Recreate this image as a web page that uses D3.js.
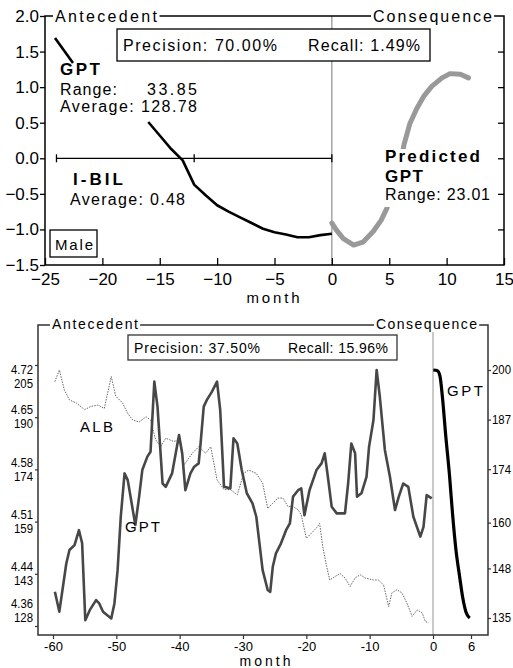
<!DOCTYPE html>
<html>
<head>
<meta charset="utf-8">
<script src="https://cdn.jsdelivr.net/npm/d3@7"></script>
<style>
  body { margin: 0; background: #fff; }
  svg { display: block; font-family: "Liberation Sans", Arial, sans-serif; }
</style>
</head>
<body>
<div id="chart"></div>
<script>
// ---- top panel: normalised GPT / I-BIL rule
const topTicksX = [-25, -20, -15, -10, -5, 0, 5, 10, 15];
const topTicksY = [-1.5, -1.0, -0.5, 0.0, 0.5, 1.0, 1.5, 2.0];
const gptAnteMonths = [-16, -15, -14, -13, -12, -11, -10, -9, -8, -7, -6, -5, -4, -3, -2, -1, 0];
const gptAnteValues = [0.51, 0.32, 0.13, -0.03, -0.37, -0.52, -0.66, -0.75, -0.83, -0.91, -0.99, -1.04, -1.07, -1.11, -1.11, -1.08, -1.06];
const gptPredMonths = [0, 0.4, 1.0, 1.9, 2.7, 3.6, 4.3, 4.8, 5.5, 6.0, 6.3, 6.8, 7.4, 8.0, 8.7, 9.6, 10.3, 11.2, 11.9];
const gptPredValues = [-0.91, -1.01, -1.13, -1.22, -1.18, -1.03, -0.87, -0.70, -0.35, -0.05, 0.20, 0.49, 0.70, 0.87, 1.01, 1.13, 1.19, 1.18, 1.13];
const ibilMonths = [-24, -12, 0];
const ibilLevel = 0;

// ---- bottom panel: GPT / ALB rule
const bottomTicksX = [-60, -50, -40, -30, -20, -10, 0, 6];
const leftAlbLabels = ["4.72", "4.65", "4.58", "4.51", "4.44", "4.36"];
const leftGptLabels = ["205", "190", "174", "159", "143", "128"];
const rightGptTicks = [200, 187, 174, 160, 148, 135];
const gptMonths = [-59.7, -59.0, -57.9, -57.4, -56.6, -55.9, -55.4, -54.9, -54.2, -53.2, -52.7, -52.1, -50.8, -50.3, -49.8, -49.3, -48.7, -48.2, -47.4, -47.0, -46.4, -45.9, -45.1, -44.6, -44.0, -43.5, -42.7, -42.2, -41.2, -40.1, -39.6, -39.1, -38.3, -37.7, -37.0, -36.7, -36.2, -35.7, -34.9, -34.1, -33.6, -33.0, -32.0, -31.5, -30.9, -30.2, -29.4, -28.5, -27.9, -27.4, -26.9, -26.1, -25.7, -25.3, -24.8, -24.0, -23.2, -22.6, -22.1, -21.3, -20.8, -20.3, -19.5, -18.4, -17.6, -17.1, -16.6, -16.0, -15.2, -13.9, -13.4, -12.9, -12.3, -12.0, -11.3, -10.5, -10.1, -9.4, -8.9, -8.4, -7.6, -6.8, -6.0, -5.4, -4.7, -3.9, -3.1, -2.0, -1.5, -1.0, -0.2];
const gptValues = [136.9, 130.4, 146.2, 150.6, 152.2, 157.1, 152.8, 127.6, 130.9, 134.2, 133.1, 130.4, 128.2, 133.1, 144.0, 161.5, 175.7, 173.5, 163.7, 158.8, 168.1, 176.8, 181.2, 182.8, 205.8, 197.6, 172.4, 171.3, 175.7, 188.3, 182.3, 170.2, 175.7, 177.9, 179.0, 185.5, 197.6, 199.8, 202.5, 205.8, 196.5, 171.3, 170.8, 187.2, 185.5, 176.8, 169.2, 165.9, 161.5, 152.8, 144.0, 137.5, 136.9, 145.1, 149.5, 152.8, 157.1, 159.3, 168.1, 170.2, 170.8, 162.0, 170.2, 176.8, 179.0, 182.3, 174.6, 164.8, 162.6, 162.6, 172.4, 185.5, 182.3, 168.1, 169.2, 174.6, 184.4, 193.2, 209.6, 200.9, 183.4, 174.6, 163.7, 168.1, 172.4, 171.3, 161.5, 155.0, 158.2, 168.6, 167.5];
const albMonths = [-59.7, -59.0, -58.2, -57.4, -56.3, -55.0, -54.0, -52.9, -51.9, -50.8, -50.1, -49.0, -48.2, -47.4, -46.4, -45.3, -44.6, -43.8, -43.0, -42.2, -40.9, -40.1, -39.3, -38.0, -37.0, -35.9, -35.1, -34.1, -33.0, -32.0, -30.9, -29.9, -29.1, -27.9, -26.9, -26.1, -25.3, -24.5, -23.7, -22.9, -22.1, -21.3, -20.8, -20.0, -19.2, -18.4, -17.9, -17.4, -16.8, -16.3, -15.5, -14.7, -13.9, -13.1, -12.3, -11.5, -10.7, -9.4, -8.6, -7.8, -7.0, -6.5, -5.7, -4.9, -4.1, -3.3, -2.5, -1.7, -1.2, -0.7];
const albValues = [4.702, 4.720, 4.689, 4.674, 4.669, 4.659, 4.664, 4.666, 4.661, 4.710, 4.680, 4.669, 4.653, 4.643, 4.640, 4.648, 4.643, 4.613, 4.602, 4.615, 4.610, 4.613, 4.574, 4.592, 4.602, 4.592, 4.602, 4.551, 4.536, 4.536, 4.528, 4.561, 4.566, 4.561, 4.546, 4.507, 4.515, 4.523, 4.523, 4.510, 4.510, 4.505, 4.497, 4.461, 4.469, 4.477, 4.484, 4.448, 4.418, 4.397, 4.402, 4.407, 4.400, 4.387, 4.400, 4.405, 4.400, 4.397, 4.397, 4.389, 4.356, 4.377, 4.382, 4.377, 4.361, 4.341, 4.351, 4.346, 4.333, 4.331];
const gptConsMonths = [0.05, 0.7, 1.1, 1.5, 2.0, 2.6, 3.1, 3.6, 4.2, 4.7, 5.2, 5.8];
const gptConsValues = [200, 199.8, 198.4, 192.7, 183.0, 172.5, 162.0, 153.2, 145.9, 140.3, 136.6, 135.0];

const svg = d3.select("#chart").append("svg").attr("width", 513).attr("height", 668);

// text helper, len = measured width in the reference
function txt(g, x, y, s, size, len, weight) {
  const t = g.append("text").attr("x", x).attr("y", y).attr("font-size", size).text(s);
  if (len) t.attr("textLength", len).attr("lengthAdjust", "spacing");
  if (weight) t.attr("font-weight", weight);
  return t;
}
// white patch behind a text so it breaks the frame line
function bg(t, pad) {
  const b = t.node().getBBox();
  d3.select(t.node().parentNode).insert("rect", () => t.node())
    .attr("x", b.x - pad).attr("y", b.y).attr("width", b.width + 2 * pad).attr("height", b.height)
    .attr("fill", "#fff");
}

function drawTop() {
  const x = d3.scaleLinear().domain([-25, 15]).range([45, 504]);
  const y = d3.scaleLinear().domain([-1.5, 2]).range([265, 16]);
  const g = svg.append("g");

  // month 0 divider
  g.append("line")
    .attr("x1", x(0)).attr("x2", x(0)).attr("y1", y(2)).attr("y2", y(-1.5))
    .attr("stroke", "#777").attr("stroke-width", 1);

  // frame
  g.append("path")
    .attr("d", `M${x(-25)},${y(2)}V${y(-1.5)}H${x(15)}V${y(2)}Z`)
    .attr("fill", "none").attr("stroke", "#000").attr("stroke-width", 1.5);

  // axes
  const left = g.append("g").attr("transform", `translate(${x(-25)},0)`)
    .call(d3.axisLeft(y).tickValues(topTicksY).tickSize(5).tickPadding(1).tickFormat(d3.format(".1f")));
  const bottom = g.append("g").attr("transform", `translate(0,${y(-1.5)})`)
    .call(d3.axisBottom(x).tickValues(topTicksX).tickSize(-7).tickPadding(8));
  const right = g.append("g").attr("transform", `translate(${x(15)},0)`)
    .call(d3.axisRight(y).tickValues(topTicksY.slice(1, -1)).tickSize(-6).tickFormat(""));
  [left, bottom, right].forEach((a) => {
    a.select(".domain").remove();
    a.selectAll("line").attr("stroke", "#000").attr("stroke-width", 1.3);
    a.selectAll("text").attr("font-size", 17).attr("fill", "#000").attr("font-family", null);
  });

  // I-BIL range bar
  g.append("line")
    .attr("x1", x(ibilMonths[0])).attr("x2", x(ibilMonths[ibilMonths.length - 1]))
    .attr("y1", y(ibilLevel)).attr("y2", y(ibilLevel))
    .attr("stroke", "#000").attr("stroke-width", 1.3);
  g.selectAll(".ibil-tick").data(ibilMonths).join("line")
    .attr("x1", (d) => x(d)).attr("x2", (d) => x(d))
    .attr("y1", y(ibilLevel) - 4).attr("y2", y(ibilLevel) + 4)
    .attr("stroke", "#000").attr("stroke-width", 1.3);

  const line = d3.line().x((d) => x(d[0])).y((d) => y(d[1]));

  // predicted GPT (consequence)
  g.append("path")
    .datum(d3.zip(gptPredMonths, gptPredValues))
    .attr("d", line).attr("fill", "none")
    .attr("stroke", "#999").attr("stroke-width", 5).attr("stroke-linejoin", "round").attr("stroke-linecap", "round");

  // GPT (antecedent)
  g.append("path")
    .datum(d3.zip(gptAnteMonths, gptAnteValues))
    .attr("d", line).attr("fill", "none")
    .attr("stroke", "#000").attr("stroke-width", 2.6).attr("stroke-linejoin", "round");

  // header texts on the frame
  bg(txt(g, 55, 22, "Antecedent", 16, 102), 2);
  bg(txt(g, 373, 22, "Consequence", 16, 119), 2);

  // precision box
  g.append("rect").attr("x", 117).attr("y", 29).attr("width", 313).attr("height", 32)
    .attr("fill", "#fff").attr("stroke", "#000").attr("stroke-width", 1.3);
  txt(g, 123, 51, "Precision: 70.00%", 16, 154);
  txt(g, 308, 51, "Recall: 1.49%", 16, 112);

  // GPT legend mark + labels
  g.append("line").attr("x1", 55).attr("y1", 38).attr("x2", 73).attr("y2", 63)
    .attr("stroke", "#000").attr("stroke-width", 2.6);
  txt(g, 60, 75, "GPT", 17, 40, "bold");
  txt(g, 60, 95, "Range:", 16, 57);
  txt(g, 147, 95, "33.85", 16, 50);
  txt(g, 60, 112, "Average: 128.78", 16, 137);
  txt(g, 73, 185, "I-BIL", 17, 50, "bold");
  txt(g, 70, 205, "Average: 0.48", 16, 115);

  // predicted label block sits over the grey line
  const pg = g.append("g");
  txt(pg, 385, 162, "Predicted", 17, 95, "bold");
  txt(pg, 385, 182, "GPT", 17, 38, "bold");
  txt(pg, 385, 200, "Range: 23.01", 16, 105);
  const pb = pg.node().getBBox();
  pg.insert("rect", ":first-child").attr("x", pb.x).attr("y", pb.y + 2)
    .attr("width", pb.width + 2).attr("height", pb.height + 2).attr("fill", "#fff");

  // sex box
  g.append("rect").attr("x", 50).attr("y", 230).attr("width", 47).attr("height", 27)
    .attr("fill", "#fff").attr("stroke", "#000").attr("stroke-width", 1.3);
  txt(g, 55, 250, "Male", 15, 38);

  txt(g, 273, 303, "month", 15, 53).attr("text-anchor", "middle");
}

function drawBottom() {
  const x = d3.scaleLinear().domain([-60, 6]).range([53, 471]);
  const yGpt = d3.scaleLinear().domain([128, 205]).range([619, 384]);
  const yAlb = d3.scaleLinear().domain([4.36, 4.72]).range([604, 370]);
  const yGptR = d3.scaleLinear().domain([135, 200]).range([618, 370]);
  const yTick = d3.scalePoint().domain(d3.range(leftGptLabels.length)).range([365, 626]);
  const frame = { left: 38, right: 488, top: 325, bottom: 635 };
  const g = svg.append("g");

  g.append("line")
    .attr("x1", x(0)).attr("x2", x(0)).attr("y1", frame.top).attr("y2", frame.bottom)
    .attr("stroke", "#888").attr("stroke-width", 0.9);

  g.append("path")
    .attr("d", `M${frame.left},${frame.top}V${frame.bottom}H${frame.right}V${frame.top}Z`)
    .attr("fill", "none").attr("stroke", "#333").attr("stroke-width", 1.5);

  const bottom = g.append("g").attr("transform", `translate(0,${frame.bottom})`)
    .call(d3.axisBottom(x).tickValues(bottomTicksX).tickSize(4).tickPadding(3).tickFormat((d) => String(d)));
  const left = g.append("g").attr("transform", `translate(${frame.left},0)`)
    .call(d3.axisLeft(yTick).tickSize(3).tickFormat(""));
  const right = g.append("g").attr("transform", `translate(${frame.right},0)`)
    .call(d3.axisRight(yGptR).tickValues(rightGptTicks).tickSize(3).tickPadding(1));
  [bottom, left, right].forEach((a) => {
    a.select(".domain").remove();
    a.selectAll("line").attr("stroke", "#333").attr("stroke-width", 1.2);
    a.selectAll("text").attr("fill", "#000").attr("font-family", null);
  });
  bottom.selectAll("text").attr("font-size", 13);
  right.selectAll("text").attr("font-size", 12)
    .attr("textLength", 19).attr("lengthAdjust", "spacingAndGlyphs");

  // paired left labels (ALB above, GPT below each tick), kept inside the frame
  const pairY = (i) => Math.max(377, Math.min(611, yTick(i)));
  g.append("g").selectAll("text").data(leftAlbLabels).join("text")
    .attr("x", 33).attr("y", (d, i) => pairY(i) - 7).attr("dy", "0.35em")
    .attr("text-anchor", "end").attr("font-size", 12)
    .attr("textLength", 22).attr("lengthAdjust", "spacingAndGlyphs").text((d) => d);
  g.append("g").selectAll("text").data(leftGptLabels).join("text")
    .attr("x", 33).attr("y", (d, i) => pairY(i) + 7).attr("dy", "0.35em")
    .attr("text-anchor", "end").attr("font-size", 12)
    .attr("textLength", 19).attr("lengthAdjust", "spacingAndGlyphs").text((d) => d);

  // ALB (dotted)
  g.append("path")
    .datum(d3.zip(albMonths, albValues))
    .attr("d", d3.line().x((d) => x(d[0])).y((d) => yAlb(d[1])))
    .attr("fill", "none").attr("stroke", "#666").attr("stroke-width", 1).attr("stroke-dasharray", "1.5,1.2");

  // GPT antecedent
  g.append("path")
    .datum(d3.zip(gptMonths, gptValues))
    .attr("d", d3.line().x((d) => x(d[0])).y((d) => yGpt(d[1])))
    .attr("fill", "none").attr("stroke", "#474747").attr("stroke-width", 2.6).attr("stroke-linejoin", "round");

  // GPT consequence
  g.append("path")
    .datum(d3.zip(gptConsMonths, gptConsValues))
    .attr("d", d3.line().curve(d3.curveMonotoneX).x((d) => x(d[0])).y((d) => yGptR(d[1])))
    .attr("fill", "none").attr("stroke", "#000").attr("stroke-width", 3.2);

  bg(txt(g, 52, 329, "Antecedent", 14, 86), 2);
  bg(txt(g, 376, 329, "Consequence", 14, 101), 2);

  g.append("rect").attr("x", 128).attr("y", 335).attr("width", 269).attr("height", 25)
    .attr("fill", "#fff").attr("stroke", "#333").attr("stroke-width", 1.3);
  txt(g, 134, 353, "Precision: 37.50%", 14, 126);
  txt(g, 288, 353, "Recall: 15.96%", 14, 100);

  txt(g, 80, 432, "ALB", 15, 33);
  txt(g, 125, 532, "GPT", 15, 35);
  txt(g, 447, 396, "GPT", 15, 36);

  txt(g, 265, 666, "month", 14, 51).attr("text-anchor", "middle");
}

drawTop();
drawBottom();
</script>
</body>
</html>
